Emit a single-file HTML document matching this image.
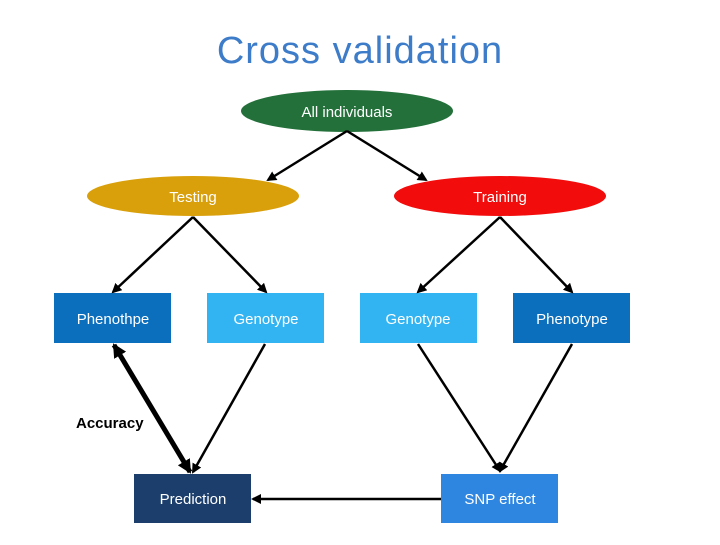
<!DOCTYPE html>
<html><head><style>
body{margin:0;background:#fff;width:720px;height:540px;overflow:hidden}
</style></head><body>
<svg width="720" height="540" xmlns="http://www.w3.org/2000/svg" font-family="Liberation Sans, DejaVu Sans, sans-serif">
<defs>
<marker id="a" markerWidth="10" markerHeight="10" refX="8" refY="5" orient="auto" markerUnits="userSpaceOnUse">
<path d="M0,0 L10,5 L0,10 Z" fill="#000"/></marker>
<marker id="b" markerWidth="14" markerHeight="14" refX="12" refY="7" orient="auto-start-reverse" markerUnits="userSpaceOnUse">
<path d="M0,0 L14,7 L0,14 Z" fill="#000"/></marker>
</defs>
<text x="360" y="63" text-anchor="middle" font-size="38" letter-spacing="1" fill="#3d7cc9">Cross validation</text>
<ellipse cx="347" cy="111" rx="106" ry="21" fill="#23703a"/>
<text x="347" y="117" text-anchor="middle" font-size="15" fill="#fff">All individuals</text>
<ellipse cx="193" cy="196" rx="106" ry="20" fill="#d9a00b"/>
<text x="193" y="202" text-anchor="middle" font-size="15" fill="#fff">Testing</text>
<ellipse cx="500" cy="196" rx="106" ry="20" fill="#f20c0c"/>
<text x="500" y="202" text-anchor="middle" font-size="15" fill="#fff">Training</text>
<rect x="54" y="293" width="117" height="50" fill="#0b6fbe"/>
<text x="113" y="324" text-anchor="middle" font-size="15" fill="#fff">Phenothpe</text>
<rect x="207" y="293" width="117" height="50" fill="#32b3f2"/>
<text x="266" y="324" text-anchor="middle" font-size="15" fill="#fff">Genotype</text>
<rect x="360" y="293" width="117" height="50" fill="#32b3f2"/>
<text x="418" y="324" text-anchor="middle" font-size="15" fill="#fff">Genotype</text>
<rect x="513" y="293" width="117" height="50" fill="#0b6fbe"/>
<text x="572" y="324" text-anchor="middle" font-size="15" fill="#fff">Phenotype</text>
<rect x="134" y="474" width="117" height="49" fill="#1b3e6c"/>
<text x="193" y="504" text-anchor="middle" font-size="15" fill="#fff">Prediction</text>
<rect x="441" y="474" width="117" height="49" fill="#2e86e0"/>
<text x="500" y="504" text-anchor="middle" font-size="15" fill="#fff">SNP effect</text>
<text x="76" y="428" font-size="15" font-weight="bold" fill="#000">Accuracy</text>
<g stroke="#000" stroke-width="2.5" fill="none" marker-end="url(#a)">
<line x1="347" y1="131" x2="268" y2="180"/>
<line x1="347" y1="131" x2="426" y2="180"/>
<line x1="193" y1="217" x2="113" y2="292"/>
<line x1="193" y1="217" x2="266" y2="292"/>
<line x1="500" y1="217" x2="418" y2="292"/>
<line x1="500" y1="217" x2="572" y2="292"/>
<line x1="265" y1="344" x2="193" y2="472"/>
<line x1="418" y1="344" x2="500" y2="471"/>
<line x1="572" y1="344" x2="500" y2="471"/>
<line x1="441" y1="499" x2="253" y2="499"/>
</g>
<line x1="114" y1="345" x2="190" y2="472" stroke="#000" stroke-width="5" marker-start="url(#b)" marker-end="url(#b)"/>
</svg>
</body></html>
